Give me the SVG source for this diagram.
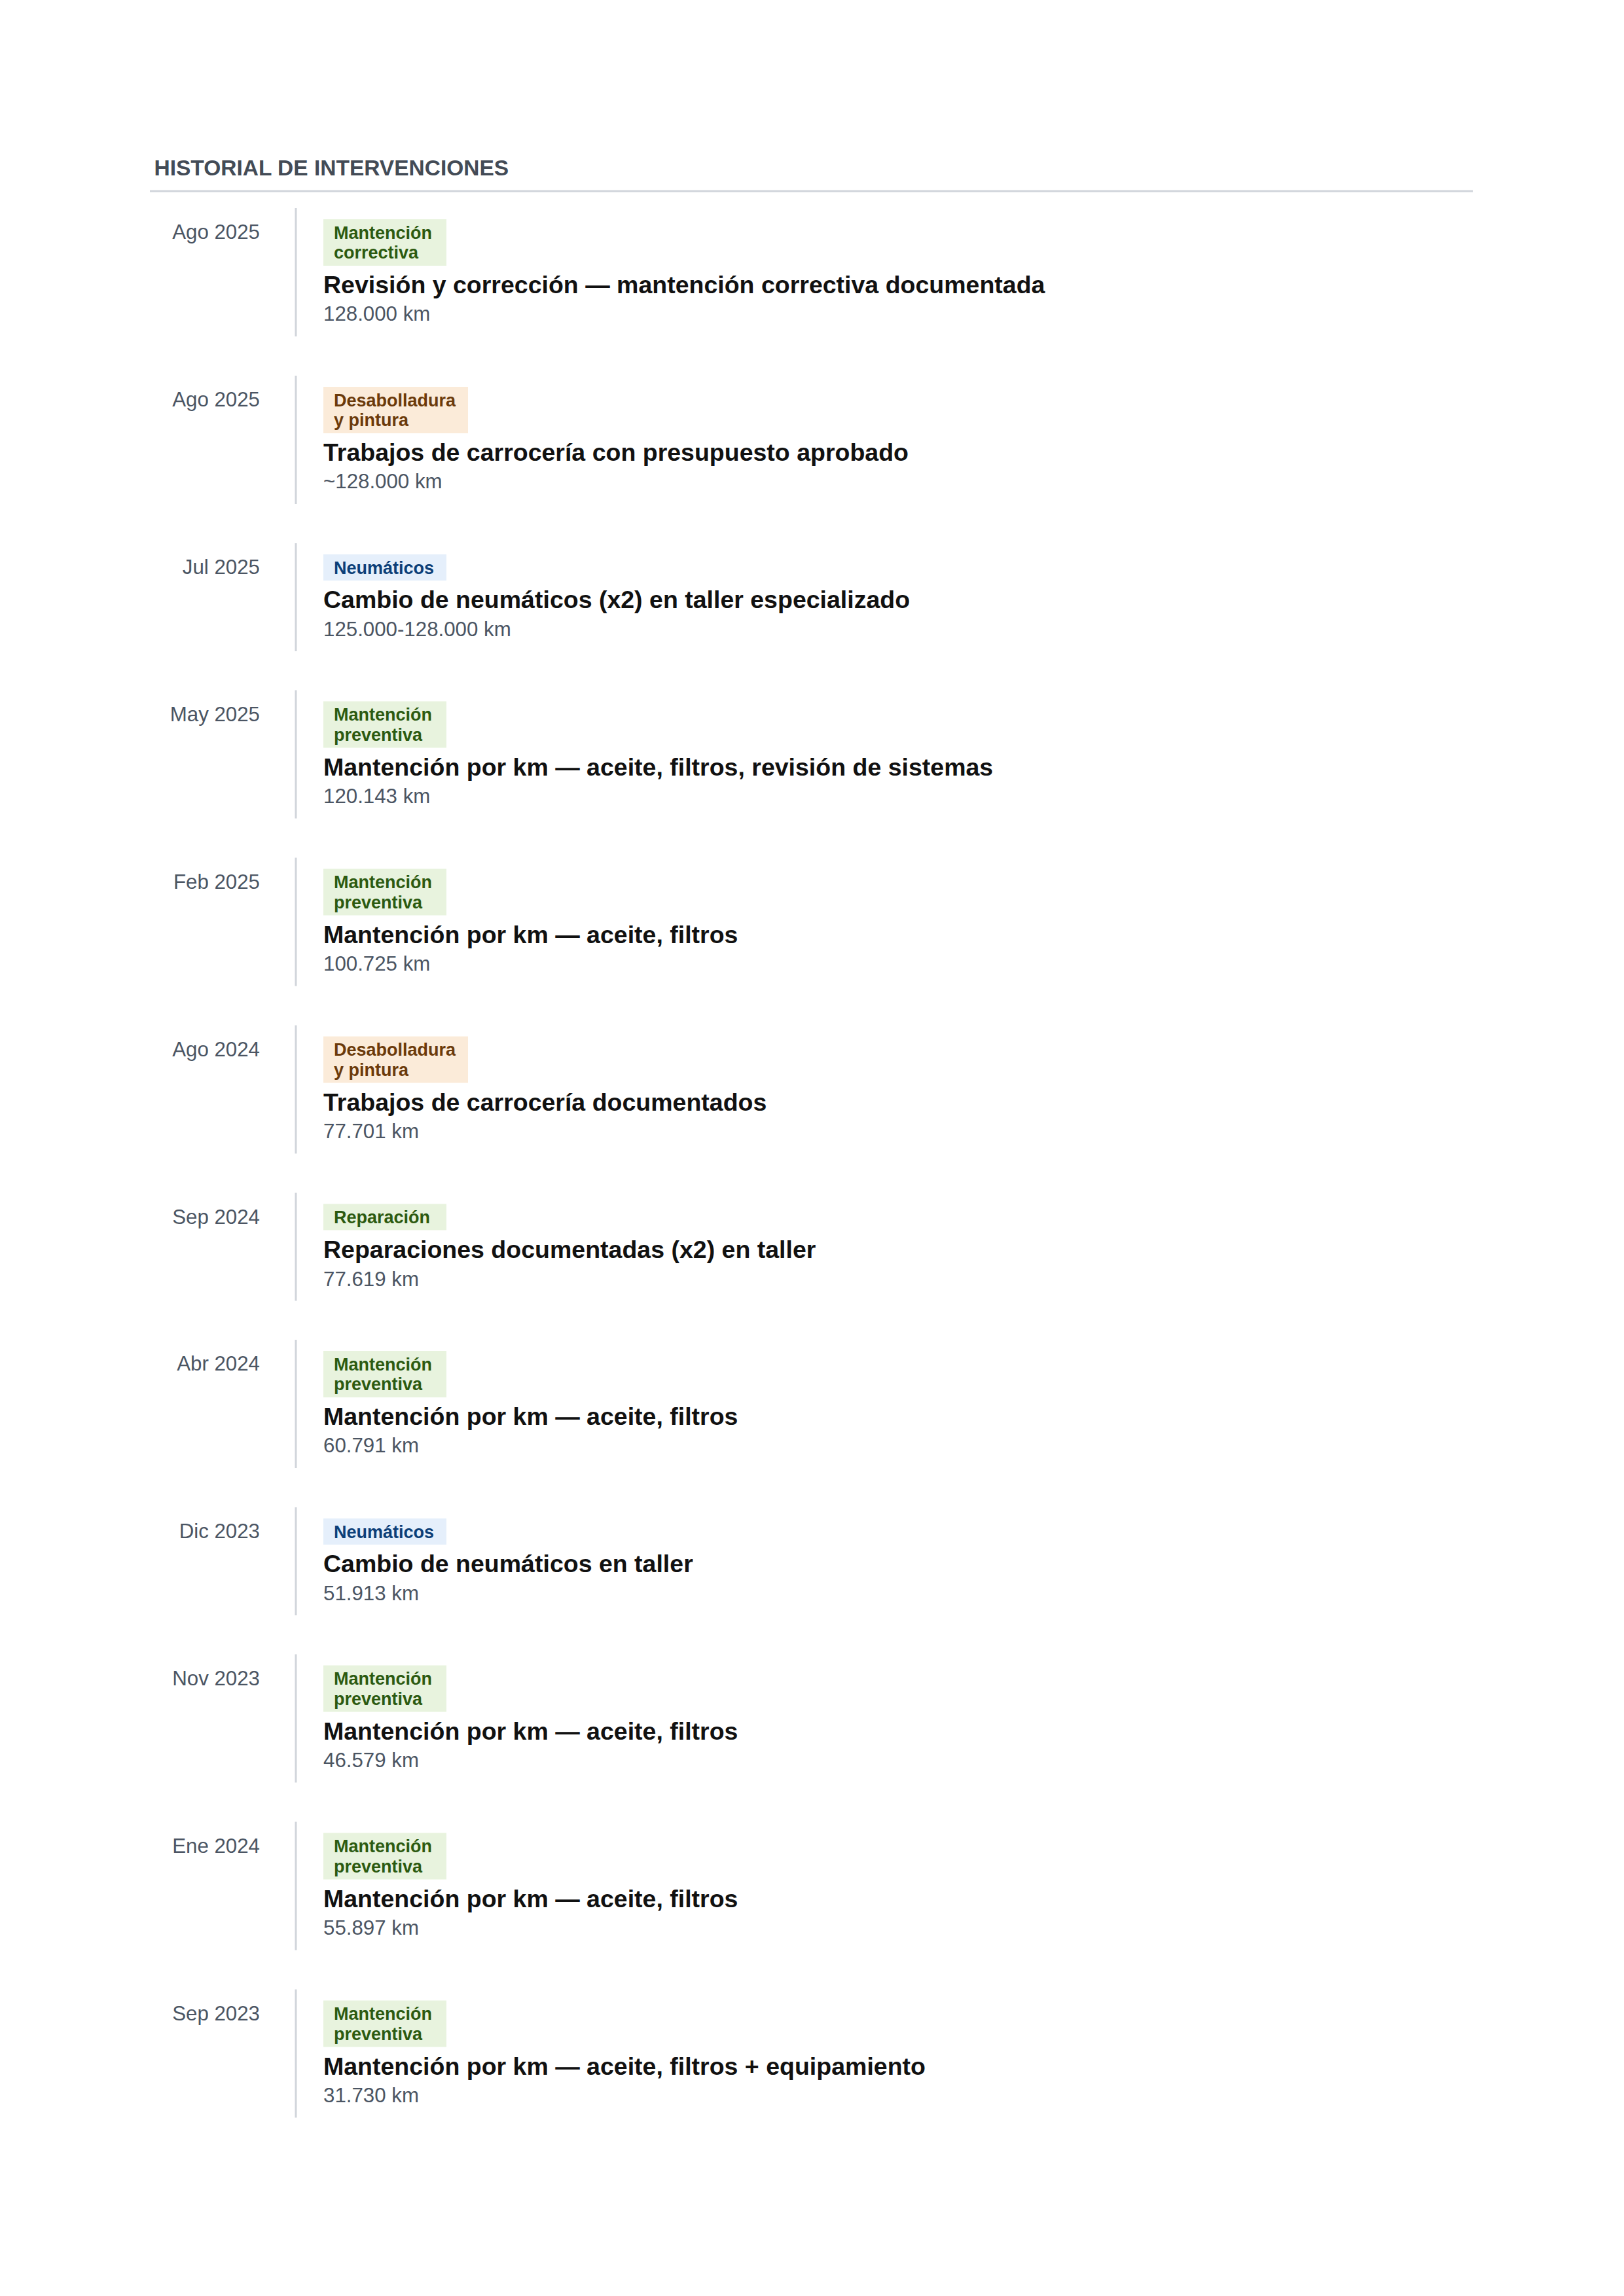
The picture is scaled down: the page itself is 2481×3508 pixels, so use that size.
<svg xmlns="http://www.w3.org/2000/svg" width="2481" height="3508" viewBox="0 0 2481 3508">
<style>
text{font-family:"Liberation Sans",Arial,Helvetica,sans-serif}
.h{font-size:33.5px;font-weight:bold;fill:#434b56}
.d{font-size:31.25px;fill:#4b5563}
.t{font-size:37.5px;font-weight:bold;fill:#111111}
.k{font-size:31.25px;fill:#4b5563}
.b{font-size:27px;font-weight:bold}
.vl{fill:#d1d5db}
.g rect{fill:#e8f3de}.g text{fill:#2c5a10}
.p rect{fill:#fbebd9}.p text{fill:#6b3a0a}
.n rect{fill:#e5effb}.n text{fill:#0c3f78}
</style>
<rect width="2481" height="3508" fill="#ffffff"/>
<g id="header">
<text class="h" x="235.5" y="268">HISTORIAL DE INTERVENCIONES</text>
<rect x="229" y="290.5" width="2021" height="3" fill="#d1d5db"/>
</g>
<g id="connectors"></g>

<g id="entry-1" transform="translate(0,318)">
<rect class="vl" x="450.5" y="0" width="3" height="196"/>
<text class="d" x="397" y="47" text-anchor="end">Ago 2025</text>
<g class="g"><rect x="494" y="17" width="188" height="71"/><text class="b" x="510" y="46.5">Mantención</text><text class="b" x="510" y="77">correctiva</text></g>
<text class="t" x="494" y="130">Revisión y corrección — mantención correctiva documentada</text>
<text class="k" x="494" y="172">128.000 km</text>
</g>

<g id="entry-2" transform="translate(0,574)">
<rect class="vl" x="450.5" y="0" width="3" height="196"/>
<text class="d" x="397" y="47" text-anchor="end">Ago 2025</text>
<g class="p"><rect x="494" y="17" width="221" height="71"/><text class="b" x="510" y="46.5">Desabolladura</text><text class="b" x="510" y="77">y pintura</text></g>
<text class="t" x="494" y="130">Trabajos de carrocería con presupuesto aprobado</text>
<text class="k" x="494" y="172">~128.000 km</text>
</g>

<g id="entry-3" transform="translate(0,830)">
<rect class="vl" x="450.5" y="0" width="3" height="165"/>
<text class="d" x="397" y="47" text-anchor="end">Jul 2025</text>
<g class="n"><rect x="494" y="17" width="188" height="40"/><text class="b" x="510" y="46.5">Neumáticos</text></g>
<text class="t" x="494" y="99">Cambio de neumáticos (x2) en taller especializado</text>
<text class="k" x="494" y="142">125.000-128.000 km</text>
</g>

<g id="entry-4" transform="translate(0,1054.5)">
<rect class="vl" x="450.5" y="0" width="3" height="196"/>
<text class="d" x="397" y="47" text-anchor="end">May 2025</text>
<g class="g"><rect x="494" y="17" width="188" height="71"/><text class="b" x="510" y="46.5">Mantención</text><text class="b" x="510" y="77">preventiva</text></g>
<text class="t" x="494" y="130">Mantención por km — aceite, filtros, revisión de sistemas</text>
<text class="k" x="494" y="172">120.143 km</text>
</g>

<g id="entry-5" transform="translate(0,1310.5)">
<rect class="vl" x="450.5" y="0" width="3" height="196"/>
<text class="d" x="397" y="47" text-anchor="end">Feb 2025</text>
<g class="g"><rect x="494" y="17" width="188" height="71"/><text class="b" x="510" y="46.5">Mantención</text><text class="b" x="510" y="77">preventiva</text></g>
<text class="t" x="494" y="130">Mantención por km — aceite, filtros</text>
<text class="k" x="494" y="172">100.725 km</text>
</g>

<g id="entry-6" transform="translate(0,1566.5)">
<rect class="vl" x="450.5" y="0" width="3" height="196"/>
<text class="d" x="397" y="47" text-anchor="end">Ago 2024</text>
<g class="p"><rect x="494" y="17" width="221" height="71"/><text class="b" x="510" y="46.5">Desabolladura</text><text class="b" x="510" y="77">y pintura</text></g>
<text class="t" x="494" y="130">Trabajos de carrocería documentados</text>
<text class="k" x="494" y="172">77.701 km</text>
</g>

<g id="entry-7" transform="translate(0,1822.5)">
<rect class="vl" x="450.5" y="0" width="3" height="165"/>
<text class="d" x="397" y="47" text-anchor="end">Sep 2024</text>
<g class="g"><rect x="494" y="17" width="188" height="40"/><text class="b" x="510" y="46.5">Reparación</text></g>
<text class="t" x="494" y="99">Reparaciones documentadas (x2) en taller</text>
<text class="k" x="494" y="142">77.619 km</text>
</g>

<g id="entry-8" transform="translate(0,2047)">
<rect class="vl" x="450.5" y="0" width="3" height="196"/>
<text class="d" x="397" y="47" text-anchor="end">Abr 2024</text>
<g class="g"><rect x="494" y="17" width="188" height="71"/><text class="b" x="510" y="46.5">Mantención</text><text class="b" x="510" y="77">preventiva</text></g>
<text class="t" x="494" y="130">Mantención por km — aceite, filtros</text>
<text class="k" x="494" y="172">60.791 km</text>
</g>

<g id="entry-9" transform="translate(0,2303)">
<rect class="vl" x="450.5" y="0" width="3" height="165"/>
<text class="d" x="397" y="47" text-anchor="end">Dic 2023</text>
<g class="n"><rect x="494" y="17" width="188" height="40"/><text class="b" x="510" y="46.5">Neumáticos</text></g>
<text class="t" x="494" y="99">Cambio de neumáticos en taller</text>
<text class="k" x="494" y="142">51.913 km</text>
</g>

<g id="entry-10" transform="translate(0,2527.5)">
<rect class="vl" x="450.5" y="0" width="3" height="196"/>
<text class="d" x="397" y="47" text-anchor="end">Nov 2023</text>
<g class="g"><rect x="494" y="17" width="188" height="71"/><text class="b" x="510" y="46.5">Mantención</text><text class="b" x="510" y="77">preventiva</text></g>
<text class="t" x="494" y="130">Mantención por km — aceite, filtros</text>
<text class="k" x="494" y="172">46.579 km</text>
</g>

<g id="entry-11" transform="translate(0,2783.5)">
<rect class="vl" x="450.5" y="0" width="3" height="196"/>
<text class="d" x="397" y="47" text-anchor="end">Ene 2024</text>
<g class="g"><rect x="494" y="17" width="188" height="71"/><text class="b" x="510" y="46.5">Mantención</text><text class="b" x="510" y="77">preventiva</text></g>
<text class="t" x="494" y="130">Mantención por km — aceite, filtros</text>
<text class="k" x="494" y="172">55.897 km</text>
</g>

<g id="entry-12" transform="translate(0,3039.5)">
<rect class="vl" x="450.5" y="0" width="3" height="196"/>
<text class="d" x="397" y="47" text-anchor="end">Sep 2023</text>
<g class="g"><rect x="494" y="17" width="188" height="71"/><text class="b" x="510" y="46.5">Mantención</text><text class="b" x="510" y="77">preventiva</text></g>
<text class="t" x="494" y="130">Mantención por km — aceite, filtros + equipamiento</text>
<text class="k" x="494" y="172">31.730 km</text>
</g>
</svg>
